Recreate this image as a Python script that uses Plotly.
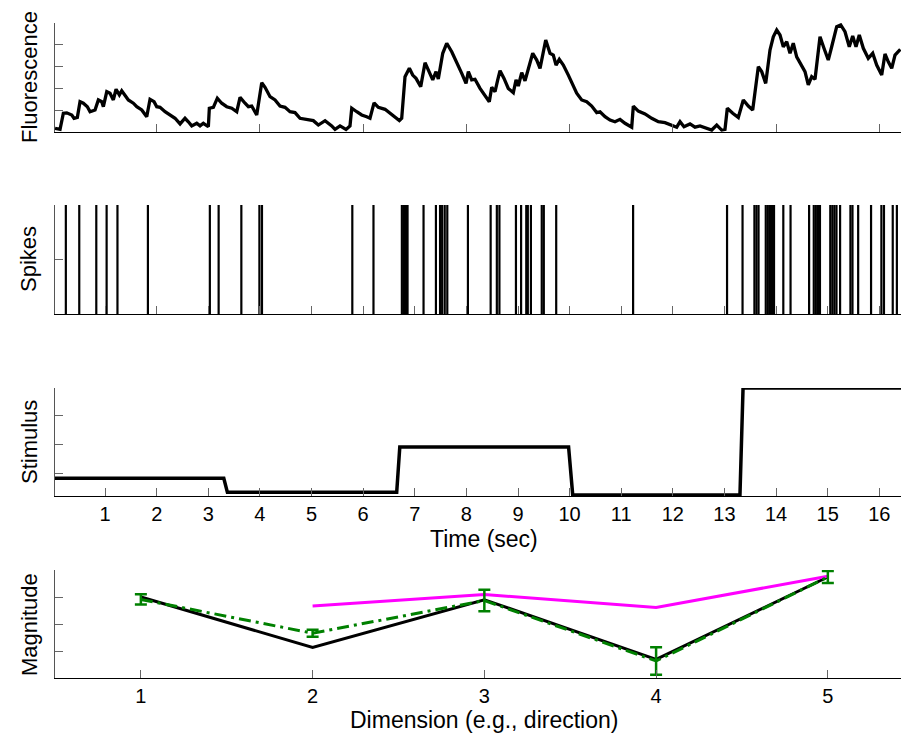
import plotly.graph_objects as go

# ---- calcium imaging trace (time in s, fluorescence in a.u.) ----
fluo_t = [0.031, 0.128, 0.192, 0.258, 0.355, 0.399, 0.463, 0.515, 0.579, 0.657,
          0.709, 0.806, 0.870, 0.936, 0.967, 1.033, 1.096, 1.160, 1.213, 1.277,
          1.323, 1.387, 1.451, 1.548, 1.614, 1.711, 1.807, 1.871, 1.949, 2.001,
          2.065, 2.162, 2.259, 2.356, 2.453, 2.549, 2.613, 2.679, 2.776, 2.840,
          2.904, 3.001, 3.020, 3.098, 3.175, 3.260, 3.357, 3.454, 3.551, 3.615,
          3.712, 3.776, 3.841, 3.938, 4.035, 4.099, 4.196, 4.293, 4.389, 4.486,
          4.583, 4.680, 4.777, 4.907, 5.035, 5.132, 5.262, 5.391, 5.455, 5.552,
          5.668, 5.745, 5.779, 5.876, 5.972, 6.069, 6.133, 6.211, 6.294, 6.424,
          6.521, 6.585, 6.701, 6.747, 6.811, 6.895, 6.960, 7.024, 7.115, 7.199,
          7.282, 7.348, 7.412, 7.456, 7.542, 7.619, 7.716, 7.813, 7.910, 7.993,
          8.038, 8.103, 8.167, 8.264, 8.361, 8.444, 8.491, 8.555, 8.607, 8.652,
          8.729, 8.812, 8.909, 8.962, 9.006, 9.072, 9.136, 9.200, 9.285, 9.363,
          9.427, 9.537, 9.620, 9.684, 9.737, 9.800, 9.878, 9.975, 10.072, 10.137,
          10.234, 10.331, 10.428, 10.525, 10.589, 10.686, 10.783, 10.879, 10.976, 11.073,
          11.203, 11.234, 11.331, 11.461, 11.590, 11.718, 11.848, 11.978, 12.075, 12.139,
          12.216, 12.332, 12.429, 12.526, 12.656, 12.753, 12.850, 12.946, 13.010, 13.055,
          13.160, 13.268, 13.365, 13.462, 13.547, 13.656, 13.721, 13.799, 13.882, 13.946,
          14.012, 14.076, 14.140, 14.206, 14.270, 14.333, 14.399, 14.496, 14.560, 14.624,
          14.690, 14.754, 14.851, 14.928, 15.011, 15.077, 15.174, 15.252, 15.335, 15.418,
          15.484, 15.548, 15.612, 15.690, 15.786, 15.872, 15.949, 16.046, 16.110, 16.174,
          16.240, 16.304, 16.368, 16.407]
fluo_v = [0.17, 0.12, 0.86, 0.88, 0.78, 0.63, 0.67, 1.39, 1.32, 1.16,
          0.93, 1.01, 1.47, 1.39, 1.16, 1.85, 1.78, 1.47, 1.96, 1.70,
          1.89, 1.70, 1.47, 1.32, 1.16, 1.01, 0.70, 1.50, 1.39, 1.16,
          1.13, 0.93, 0.78, 0.63, 0.37, 0.63, 0.47, 0.28, 0.40, 0.28,
          0.40, 0.24, 1.09, 1.13, 1.55, 1.32, 1.16, 1.09, 0.93, 1.59,
          1.32, 1.16, 1.19, 0.78, 2.26, 2.05, 1.62, 1.47, 1.19, 1.13,
          0.93, 0.89, 0.63, 0.58, 0.52, 0.32, 0.52, 0.28, 0.12, 0.28,
          0.12, 0.28, 1.09, 0.93, 0.78, 0.70, 0.63, 1.34, 1.13, 1.04,
          0.86, 0.70, 0.52, 0.63, 2.54, 2.92, 2.61, 2.46, 2.08, 3.18,
          2.77, 2.39, 2.77, 2.43, 3.61, 4.07, 3.68, 3.22, 2.69, 2.23,
          2.77, 2.39, 2.42, 2.00, 1.70, 1.39, 2.05, 1.85, 2.39, 2.81,
          2.46, 2.00, 1.80, 2.39, 2.11, 2.72, 2.35, 2.84, 3.61, 3.30,
          2.92, 4.22, 3.61, 3.53, 3.07, 3.33, 3.07, 2.61, 2.16, 1.78,
          1.47, 1.39, 1.19, 0.89, 0.93, 0.70, 0.55, 0.47, 0.58, 0.40,
          0.22, 1.19, 0.96, 0.83, 0.63, 0.47, 0.43, 0.32, 0.22, 0.47,
          0.24, 0.37, 0.22, 0.28, 0.17, 0.09, 0.32, 0.09, 0.12, 1.09,
          0.86, 0.67, 1.47, 1.19, 1.01, 3.00, 2.77, 2.23, 3.76, 4.37,
          4.68, 4.45, 3.91, 4.14, 3.61, 4.07, 3.45, 3.07, 2.77, 2.16,
          2.54, 2.42, 4.37, 3.84, 3.30, 3.91, 4.83, 4.91, 4.60, 3.91,
          4.40, 3.91, 4.45, 3.84, 3.38, 3.61, 3.07, 2.61, 3.58, 3.22,
          2.92, 3.53, 3.68, 3.79]

# ---- spike times (s) ----
spike_times = [0.24, 0.50, 0.83, 1.03, 1.24, 1.83, 3.03, 3.20, 3.64, 3.99, 4.04,
               5.79, 6.20, 6.75, 6.79, 6.83, 6.86, 7.17, 7.41, 7.49, 7.53, 7.58,
               7.63, 8.03, 8.47, 8.59, 8.64, 8.96, 9.06, 9.16, 9.19, 9.25, 9.46,
               9.50, 9.74, 11.23, 13.05, 13.35, 13.58, 13.62, 13.66, 13.80, 13.84,
               13.88, 13.92, 13.96, 14.14, 14.28, 14.64, 14.73, 14.77, 14.81, 14.85,
               15.05, 15.09, 15.13, 15.17, 15.24, 15.44, 15.48, 15.59, 15.84, 16.04,
               16.09, 16.26, 16.34]

# ---- stimulus (step sequence) ----
stim_t = [0.03, 3.30, 3.37, 6.65, 6.71, 9.98, 10.06, 13.30, 13.36, 16.42]
stim_v = [0.85, 0.85, 0.37, 0.37, 1.93, 1.93, 0.28, 0.28, 3.95, 3.95]

# ---- tuning summary ----
dims = [1, 2, 3, 4, 5]
mag_true = [3.00, 1.13, 2.90, 0.69, 3.74]
mag_alt = [None, 2.67, 3.09, 2.61, 3.77]
mag_est = [2.91, 1.66, 2.87, 0.63, 3.74]
mag_err = [0.19, 0.13, 0.40, 0.51, 0.22]

time_ticks_2 = [2, 4, 6, 8, 10, 12, 14, 16]
time_ticks_1 = list(range(1, 17))

W, H = 901, 733
FONT = "Liberation Sans, Arial, sans-serif"


def ydom(top_px, bottom_px):
    return [1 - bottom_px / H, 1 - top_px / H]


x_dom = [55 / W, 1.0]
t_range = [0.03, 16.42]

spk_x, spk_y = [], []
for t in spike_times:
    spk_x += [t, t, None]
    spk_y += [0, 1, None]

fig = go.Figure()
fig.add_trace(go.Scatter(x=fluo_t, y=fluo_v, mode="lines",
                         line=dict(color="black", width=3.3), xaxis="x", yaxis="y"))
fig.add_trace(go.Scatter(x=spk_x, y=spk_y, mode="lines",
                         line=dict(color="black", width=2.2), xaxis="x2", yaxis="y2"))
fig.add_trace(go.Scatter(x=stim_t, y=stim_v, mode="lines",
                         line=dict(color="black", width=3.5), xaxis="x3", yaxis="y3"))
fig.add_trace(go.Scatter(x=dims, y=mag_true, mode="lines",
                         line=dict(color="black", width=3), xaxis="x4", yaxis="y4"))
fig.add_trace(go.Scatter(x=dims, y=mag_alt, mode="lines",
                         line=dict(color="#ff00ff", width=3), xaxis="x4", yaxis="y4"))
fig.add_trace(go.Scatter(x=dims, y=mag_est, mode="lines",
                         line=dict(color="#008000", width=3, dash="12px,5px,3px,5px"),
                         error_y=dict(type="data", array=mag_err, color="#008000",
                                      thickness=2.5, width=6),
                         xaxis="x4", yaxis="y4"))

axis_common = dict(showgrid=False, zeroline=False, showline=True, linewidth=1,
                   ticks="inside", ticklen=8, tickwidth=1, tickcolor="#666")
tick_font = dict(family=FONT, size=20, color="black")

fig.update_layout(
    width=W, height=H, margin=dict(l=0, r=0, t=0, b=0),
    paper_bgcolor="white", plot_bgcolor="white", showlegend=False,
    font=dict(family=FONT, color="black"),
    xaxis=dict(domain=x_dom, range=t_range, tickvals=time_ticks_2, showticklabels=False,
               linecolor="black", anchor="y", **axis_common),
    yaxis=dict(domain=ydom(23, 132), range=[0, 5], tickvals=[1, 2, 3, 4, 5],
               showticklabels=False, linecolor="#555", anchor="x", **axis_common),
    xaxis2=dict(domain=x_dom, range=t_range, tickvals=time_ticks_1, showticklabels=False,
                linecolor="black", anchor="y2", **axis_common),
    yaxis2=dict(domain=ydom(205, 314), range=[0, 1], tickvals=[0.5, 1],
                showticklabels=False, linecolor="#555", anchor="x2", **axis_common),
    xaxis3=dict(domain=x_dom, range=t_range, tickvals=time_ticks_1,
                ticktext=[str(v) for v in time_ticks_1], ticklabelstandoff=0,
                tickfont=tick_font, linecolor="black", anchor="y3", **axis_common),
    yaxis3=dict(domain=ydom(388, 496), range=[0.245, 3.95], tickvals=[1, 2, 3],
                showticklabels=False, linecolor="#555", anchor="x3", **axis_common),
    xaxis4=dict(domain=x_dom, range=[0.5, 5.426], tickvals=dims, ticklabelstandoff=0,
                tickfont=tick_font, linecolor="black", anchor="y4", **axis_common),
    yaxis4=dict(domain=ydom(570, 678), range=[0, 4], tickvals=[1, 2, 3],
                showticklabels=False, linecolor="#555", anchor="x4", **axis_common),
)


def label(text, xpx, ypx, angle=0, size=22):
    fig.add_annotation(text=text, x=xpx / W, y=1 - ypx / H, xref="paper", yref="paper",
                       showarrow=False, textangle=angle, xanchor="center", yanchor="middle",
                       font=dict(family=FONT, size=size, color="black"))


label("Fluorescence", 29, 77, -90)
label("Spikes", 29, 259, -90)
label("Stimulus", 29, 442, -90)
label("Magnitude", 29, 624, -90)
label("Time (sec)", 484, 539, 0, 23)
label("Dimension (e.g., direction)", 484, 720, 0, 23)

fig.write_html("out.html")
